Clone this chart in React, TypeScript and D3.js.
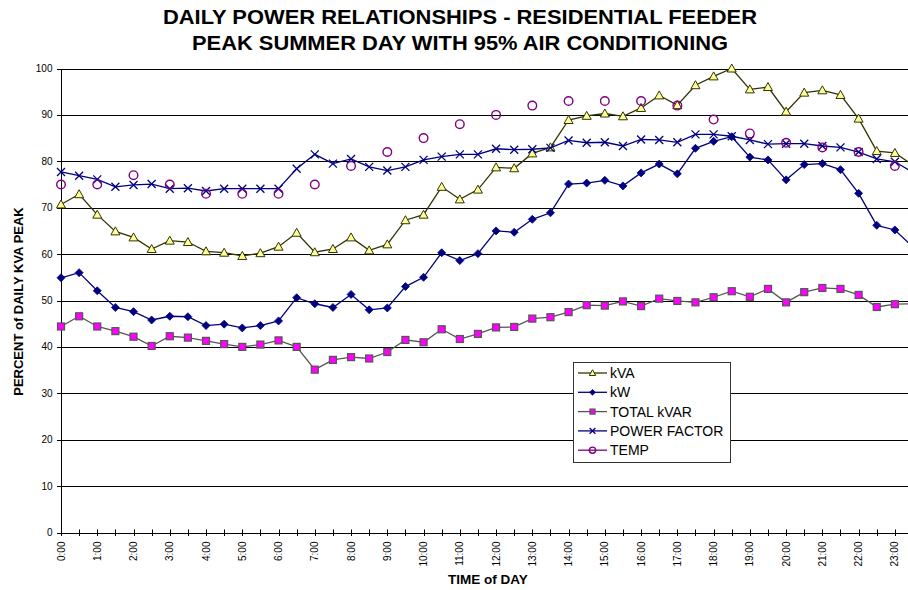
import React from "react";
import * as d3 from "d3";

const halfHours: string[] = d3.range(48).map((i) => `${Math.floor(i / 2)}:${i % 2 ? "30" : "00"}`);
const hourLabels: string[] = d3.range(24).map((h) => `${h}:00`);

const kva = [70.7, 72.9, 68.5, 64.9, 63.6, 61.1, 62.9, 62.6, 60.6, 60.3, 59.6, 60.2, 61.6, 64.6, 60.4, 61.1,
  63.6, 60.8, 62.1, 67.3, 68.5, 74.5, 71.8, 73.9, 78.7, 78.5, 81.7, 83.0, 88.9, 89.8, 90.3,
  89.7, 91.5, 94.2, 92.1, 96.4, 98.3, 100, 95.5, 96.0, 90.7, 94.8, 95.3, 94.3, 89.2, 82.2, 81.8, 79.2];
const kw = [54.9, 56.0, 52.1, 48.5, 47.6, 45.8, 46.6, 46.5, 44.6, 44.9, 44.1, 44.6, 45.6, 50.6,
  49.3, 48.5, 51.3, 48.0, 48.4, 53.0, 55.0, 60.3, 58.6, 60.1,
  65.0, 64.7, 67.5, 68.9, 75.1, 75.3, 75.9,
  74.7, 77.5, 79.4, 77.3, 82.8, 84.3, 85.3, 80.9, 80.3, 76.0, 79.3, 79.5, 78.2, 73.1, 66.2, 65.2, 61.5];
const kvar = [44.4, 46.6, 44.4, 43.4, 42.2, 40.2, 42.3, 42.0, 41.3, 40.6, 40.0, 40.5, 41.4, 40.0,
  35.1, 37.2, 37.8, 37.5, 38.9, 41.5, 41.0, 43.8, 41.7, 42.8, 44.2, 44.3, 46.1, 46.4, 47.5, 49.0, 48.9,
  49.8, 48.8, 50.4, 49.9, 49.6, 50.7, 52.0, 50.8, 52.5, 49.6, 51.8, 52.7, 52.5, 51.2, 48.6, 49.2, 49.3];
const pf = [77.7, 76.9, 76.1, 74.5, 74.9, 75.1, 74.1, 74.2, 73.6, 74.1, 74.1, 74.1, 74.1, 78.4,
  81.5, 79.5, 80.5, 78.8, 78.0, 78.8, 80.3, 81.0, 81.5, 81.5, 82.7, 82.5, 82.6, 82.9, 84.5, 84.0, 84.1,
  83.3, 84.7, 84.6, 84.1, 85.8, 85.8, 85.4, 84.6, 83.7, 83.8, 83.8, 83.3, 83.0, 82.0, 80.5, 79.9, 77.6];
const tempHourly = [75, 75, 77, 75, 73, 73, 73, 75, 79, 82, 85, 88, 90, 92, 93, 93, 93, 92, 89, 86, 84, 83, 82, 79];
const yTicks = [0, 10, 20, 30, 40, 50, 60, 70, 80, 90, 100];

const seriesNames = ["kVA", "kW", "TOTAL kVAR", "POWER FACTOR", "TEMP"];

const W = 908, H = 590;
const FONT = "Arial, 'Liberation Sans', Helvetica, sans-serif";

type Marker = "tri" | "dia" | "sq" | "x" | "circ";

function MarkerShape({ type, x, y, stroke, fill, k = 1 }: { type: Marker; x: number; y: number; stroke: string; fill: string; k?: number }) {
  if (type === "tri") {
    return <path d={`M${x},${y - 4.5 * k}L${x + 4.5 * k},${y + 3.5 * k}L${x - 4.5 * k},${y + 3.5 * k}Z`} fill={fill} stroke={stroke} strokeWidth={1} />;
  }
  if (type === "dia") {
    return <path d={`M${x},${y - 4 * k}L${x + 4 * k},${y}L${x},${y + 4 * k}L${x - 4 * k},${y}Z`} fill={fill} stroke={stroke} strokeWidth={0.8} />;
  }
  if (type === "sq") {
    return <rect x={x - 3.5 * k} y={y - 3.5 * k} width={7 * k} height={7 * k} fill={fill} stroke={stroke} strokeWidth={1.2} />;
  }
  if (type === "x") {
    return <path d={`M${x - 4 * k},${y - 4 * k}L${x + 4 * k},${y + 4 * k}M${x - 4 * k},${y + 4 * k}L${x + 4 * k},${y - 4 * k}`} stroke={stroke} strokeWidth={1.3} fill="none" />;
  }
  return <circle cx={x} cy={y} r={4.3 * k} fill="none" stroke={stroke} strokeWidth={1.4} />;
}

export default function App() {
  const x0 = 61, x1 = 913;
  const x = d3.scaleLinear().domain([0, 47]).range([x0, x1]);
  const y = d3.scaleLinear().domain([0, 100]).range([532.5, 68.5]);

  const tempFull: (number | null)[] = halfHours.map((_, i) => (i % 2 === 0 ? tempHourly[i / 2] : null));

  const series = [
    { name: seriesNames[0], data: kva as (number | null)[], line: "#333300", marker: "tri" as Marker, mStroke: "#333300", mFill: "#FFFF99" },
    { name: seriesNames[1], data: kw as (number | null)[], line: "#000080", marker: "dia" as Marker, mStroke: "#000080", mFill: "#000080" },
    { name: seriesNames[2], data: kvar as (number | null)[], line: "#555555", marker: "sq" as Marker, mStroke: "#555555", mFill: "#FF00FF" },
    { name: seriesNames[3], data: pf as (number | null)[], line: "#000080", marker: "x" as Marker, mStroke: "#000080", mFill: "none" },
    { name: seriesNames[4], data: tempFull, line: "#800080", marker: "circ" as Marker, mStroke: "#800080", mFill: "none" },
  ];

  const lineGen = d3.line<number | null>()
    .defined((d) => d !== null)
    .x((_, i) => x(i))
    .y((d) => y(d as number));

  const legendX = 573, legendY = 362, legendW = 157, legendH = 100;
  const legendRow = 19.3;

  return (
    <svg width={W} height={H} style={{ position: "absolute", left: 0, top: 0, display: "block", background: "#fff" }} fontFamily={FONT}>
      <defs>
        <clipPath id="clip">
          <rect x={0} y={0} width={W} height={H} />
        </clipPath>
      </defs>
      {/* Title */}
      <text x={460} y={23.5} textAnchor="middle" fontSize={19.5} fontWeight="bold" textLength={594} lengthAdjust="spacingAndGlyphs">DAILY POWER RELATIONSHIPS - RESIDENTIAL FEEDER</text>
      <text x={460} y={50.2} textAnchor="middle" fontSize={19.5} fontWeight="bold" textLength={536} lengthAdjust="spacingAndGlyphs">PEAK SUMMER DAY WITH 95% AIR CONDITIONING</text>

      {/* Gridlines */}
      {yTicks.filter((t) => t > 0).map((t) => (
        <line key={`g${t}`} x1={x0} x2={W} y1={Math.round(y(t)) + 0.5} y2={Math.round(y(t)) + 0.5} stroke="#000" strokeWidth={1} />
      ))}
      {/* Y axis */}
      <line x1={x0 + 0.5} x2={x0 + 0.5} y1={Math.round(y(100)) + 0.5} y2={Math.round(y(0)) + 0.5} stroke="#000" strokeWidth={1} />
      {yTicks.map((t) => (
        <g key={`yt${t}`}>
          <line x1={x0 - 4} x2={x0} y1={Math.round(y(t)) + 0.5} y2={Math.round(y(t)) + 0.5} stroke="#000" />
          <text x={52.5} y={y(t)} dy="0.35em" textAnchor="end" fontSize={10} fill="#000">{t}</text>
        </g>
      ))}
      {/* X axis */}
      <line x1={x0} x2={W} y1={Math.round(y(0)) + 0.5} y2={Math.round(y(0)) + 0.5} stroke="#000" strokeWidth={1} />
      {halfHours.map((_, i) => (
        <line key={`xt${i}`} x1={Math.round(x(i)) + 0.5} x2={Math.round(x(i)) + 0.5} y1={529.5} y2={536} stroke="#000" />
      ))}
      {hourLabels.map((lab, h) => (
        <text key={`xl${h}`} transform={`translate(${x(h * 2) + 3.5},541.5) rotate(-90)`} textAnchor="end" fontSize={10} fill="#000">{lab}</text>
      ))}

      {/* Axis titles */}
      <text transform={`translate(23,301.5) rotate(-90)`} textAnchor="middle" fontSize={13} fontWeight="bold">PERCENT of DAILY KVA PEAK</text>
      <text x={488} y={584} textAnchor="middle" fontSize={13.5} fontWeight="bold">TIME of DAY</text>

      {/* Series */}
      <g clipPath="url(#clip)">
        {series.map((s) => (
          <g key={s.name}>
            <path d={lineGen(s.data) || ""} fill="none" stroke={s.line} strokeWidth={1.3} />
            {s.data.map((d, i) => d === null ? null : (
              <MarkerShape key={i} type={s.marker} x={x(i)} y={y(d)} stroke={s.mStroke} fill={s.mFill} />
            ))}
          </g>
        ))}
      </g>

      {/* Legend */}
      <rect x={legendX + 0.5} y={legendY + 0.5} width={legendW} height={legendH} fill="#fff" stroke="#333" strokeWidth={1} />
      {series.map((s, i) => {
        const cy = legendY + 11 + i * legendRow;
        return (
          <g key={`lg${i}`}>
            <line x1={578} x2={607} y1={cy} y2={cy} stroke={s.line} strokeWidth={1.3} />
            <MarkerShape type={s.marker} x={592.5} y={cy} stroke={s.mStroke} fill={s.mFill} k={0.72} />
            <text x={610} y={cy} dy="0.36em" fontSize={14} fill="#000">{s.name}</text>
          </g>
        );
      })}
    </svg>
  );
}
